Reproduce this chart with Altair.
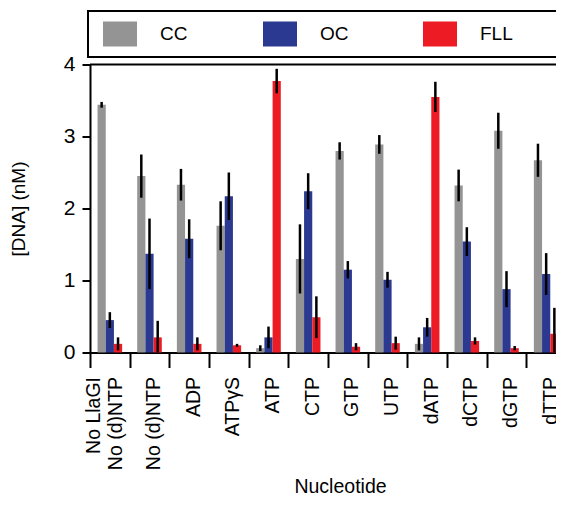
import altair as alt
import pandas as pd

# ---- data ----
categories = ["No LlaGI No (d)NTP", "No (d)NTP", "ADP", "ATPγS", "ATP", "CTP",
              "GTP", "UTP", "dATP", "dCTP", "dGTP", "dTTP"]
series = ["CC", "OC", "FLL"]
cc = [3.44, 2.45, 2.33, 1.76, 0.06, 1.30, 2.80, 2.89, 0.12, 2.32, 3.08, 2.67]
cc_err = [0.04, 0.30, 0.22, 0.34, 0.04, 0.48, 0.12, 0.13, 0.09, 0.22, 0.25, 0.23]
oc = [0.45, 1.37, 1.58, 2.17, 0.21, 2.24, 1.15, 1.01, 0.35, 1.54, 0.88, 1.09]
oc_err = [0.11, 0.49, 0.27, 0.33, 0.15, 0.25, 0.12, 0.11, 0.13, 0.20, 0.25, 0.29]
fll = [0.12, 0.21, 0.12, 0.10, 3.77, 0.49, 0.08, 0.13, 3.55, 0.16, 0.06, 0.26]
fll_err = [0.09, 0.23, 0.09, 0.02, 0.17, 0.29, 0.05, 0.09, 0.21, 0.05, 0.03, 0.36]
colors = ["#949494", "#2B3990", "#ED1C24"]
y_ticks = [0, 1, 2, 3, 4]
y_max = [4]

FONT = "Liberation Sans"

rows = []
for s, vals, errs in [("CC", cc, cc_err), ("OC", oc, oc_err), ("FLL", fll, fll_err)]:
    for c, v, e in zip(categories, vals, errs):
        rows.append({"cat": c, "series": s, "v": v, "e": e})
df = pd.DataFrame(rows)

color_scale = alt.Scale(domain=series, range=colors)

first = "datum.value == 'No LlaGI No (d)NTP'"
label_expr = first + " ? ['No LlaGI', 'No (d)NTP'] : datum.value"

base = alt.Chart(df).transform_calculate(
    lo="max(0, datum.v - datum.e)", hi="datum.v + datum.e"
).encode(
    x=alt.X("cat:N", sort=categories,
            scale=alt.Scale(range=[0, 476], paddingInner=0, paddingOuter=0),
            axis=alt.Axis(title="Nucleotide", labelAngle=270, labelAlign="right",
                          labelBaseline="middle", labelExpr=label_expr,
                          tickBand="extent", tickSize=15, tickWidth=2, tickColor="black",
                          domainColor="black", domainWidth=2, labelPadding=9,
                          labelFontSize=19.5, labelFont=FONT, labelColor="black",
                          labelLimit=400,
                          labelOffset={"condition": {"test": first, "value": -16}, "value": 4},
                          titleFont=FONT, titleFontSize=19.5,
                          titleFontWeight="normal", titleColor="black",
                          titleX=250, titleY=125, titleBaseline="top")),
    xOffset=alt.XOffset("series:N", sort=series,
                        scale=alt.Scale(paddingOuter=0.92, paddingInner=0)),
)

bars = base.mark_bar().encode(
    y=alt.Y("v:Q", scale=alt.Scale(domain=[0, 4]),
            axis=alt.Axis(title="[DNA] (nM)", values=y_ticks, format="d", grid=False,
                          tickSize=8, tickWidth=2, tickColor="black",
                          domainColor="black", domainWidth=2,
                          labelFontSize=21, labelFont=FONT, labelColor="black",
                          labelPadding=7, titleFont=FONT, titleFontSize=19,
                          titleFontWeight="normal", titleColor="black", titlePadding=35)),
    color=alt.Color("series:N", scale=color_scale,
                    legend=alt.Legend(title=None, orient="none", direction="horizontal",
                                      legendX=17.5, legendY=-43, padding=0,
                                      columns=3, gridAlign="all", columnPadding=69,
                                      symbolType="M-1.36,-1L1.36,-1L1.36,1L-1.36,1Z",
                                      symbolSize=625, symbolStrokeWidth=0,
                                      symbolOpacity=1, labelOffset=27.5,
                                      labelFont=FONT, labelFontSize=19,
                                      labelColor="black")),
)

err = base.mark_rule(color="black", strokeWidth=2.5).encode(
    y="lo:Q", y2="hi:Q"
)

top_line = alt.Chart(pd.DataFrame({"y": y_max})).mark_rule(
    color="black", strokeWidth=2
).encode(y="y:Q")

legend_box = alt.Chart(pd.DataFrame({"k": [0]})).mark_rect(
    fillOpacity=0, stroke="black", strokeWidth=2
).encode(x=alt.value(-2), x2=alt.value(520), y=alt.value(-53.5), y2=alt.value(-7.5))

chart = alt.layer(legend_box, bars, err, top_line).properties(
    width=466, height=288,
    autosize=alt.AutoSizeParams(type="none"),
    padding={"left": 82, "top": 56.5, "right": 0, "bottom": 144.5},
    background="white",
).configure_view(stroke=None)

chart.save("out.html", embed_options={"renderer": "svg", "actions": False})
